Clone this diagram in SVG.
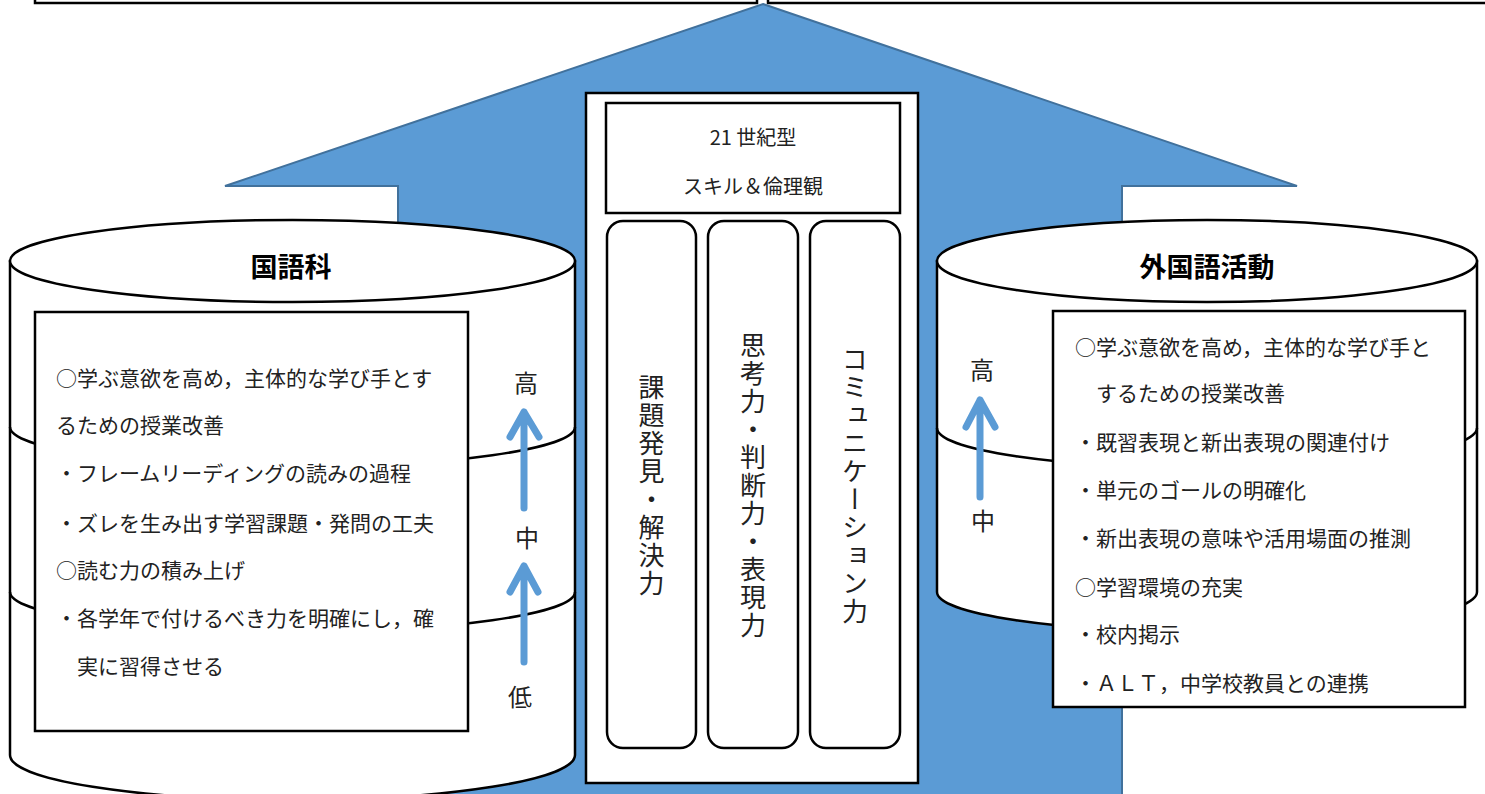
<svg xmlns="http://www.w3.org/2000/svg" width="1485" height="794" viewBox="0 0 1485 794">
<style>
.ln{fill:#fff;stroke:#000;stroke-width:2.5}
.nf{fill:none;stroke:#000;stroke-width:2.5}
.t{font-family:"Noto Sans CJK JP","Noto Sans CJK SC",sans-serif;font-size:21px;fill:#222}
.ttl{font-family:"Noto Sans CJK JP",sans-serif;font-size:27px;font-weight:bold;fill:#000;text-anchor:middle}
.lbl{font-family:"Noto Sans CJK JP",sans-serif;font-size:24px;fill:#222;text-anchor:middle}
.hd{font-family:"Noto Sans CJK JP",sans-serif;font-size:20px;fill:#222;text-anchor:middle}
.vt{font-family:"Noto Sans CJK JP",sans-serif;font-size:26px;letter-spacing:2px;fill:#222;writing-mode:vertical-rl;text-anchor:middle}
.ar{fill:none;stroke:#5B9BD5;stroke-width:7;stroke-linecap:round;stroke-linejoin:round}
</style>
<rect width="1485" height="794" fill="#fff"/>
<g id="top-boxes">
<rect class="ln" x="35" y="-20" width="722" height="23"/>
<rect class="ln" x="768" y="-20" width="730" height="23"/>
</g>
<g id="big-arrow">
<polygon points="763,4 1297,186 1122,186 1122,800 398,800 398,186 225,186" fill="#5B9BD5" stroke="#41719C" stroke-width="2"/>
</g>
<g id="center">
<rect class="ln" x="586" y="93" width="332" height="690"/>
<rect class="ln" x="606" y="103" width="294" height="110"/>
<text class="hd" x="753" y="145">21 世紀型</text>
<text class="hd" x="753" y="194">スキル＆倫理観</text>
<g id="col1"><rect class="ln" x="607" y="221" width="89" height="527" rx="16"/><text class="vt" x="651.5" y="486">課題発見・解決力</text></g>
<g id="col2"><rect class="ln" x="708" y="221" width="90" height="527" rx="16"/><text class="vt" x="753" y="486">思考力・判断力・表現力</text></g>
<g id="col3"><rect class="ln" x="810" y="221" width="90" height="527" rx="16"/><text class="vt" x="855" y="486">コミュニケーション力</text></g>
</g>
<g id="kokugo">
<path class="ln" d="M10,261 L10,755 A282.5,45 0 0 0 575,755 L575,261 Z"/>
<ellipse class="ln" cx="292.5" cy="261" rx="282.5" ry="41"/>
<path class="nf" d="M10,427 A282.5,40 0 0 0 575,427"/>
<path class="nf" d="M10,592 A282.5,40 0 0 0 575,592"/>
<text class="ttl" x="291" y="277">国語科</text>
<rect class="ln" x="35" y="312" width="433" height="419"/>
<text class="t" x="56" y="386">○学ぶ意欲を高め，主体的な学び手とす</text>
<text class="t" x="56" y="433">るための授業改善</text>
<text class="t" x="56" y="481">・フレームリーディングの読みの過程</text>
<text class="t" x="56" y="531">・ズレを生み出す学習課題・発問の工夫</text>
<text class="t" x="56" y="578">○読む力の積み上げ</text>
<text class="t" x="56" y="626">・各学年で付けるべき力を明確にし，確</text>
<text class="t" x="77" y="674">実に習得させる</text>
<text class="lbl" x="526" y="392">高</text>
<text class="lbl" x="527" y="547">中</text>
<text class="lbl" x="520" y="706">低</text>
</g>
<g id="gaikokugo">
<path class="ln" d="M937,261 L937,592 A270,40 0 0 0 1477,592 L1477,261 Z"/>
<ellipse class="ln" cx="1207" cy="261" rx="270" ry="41"/>
<path class="nf" d="M937,428 A270,40 0 0 0 1477,428"/>
<text class="ttl" x="1207" y="277">外国語活動</text>
<rect class="ln" x="1053" y="311" width="412" height="396"/>
<text class="t" x="1075" y="355">○学ぶ意欲を高め，主体的な学び手と</text>
<text class="t" x="1096" y="401">するための授業改善</text>
<text class="t" x="1075" y="450">・既習表現と新出表現の関連付け</text>
<text class="t" x="1075" y="498">・単元のゴールの明確化</text>
<text class="t" x="1075" y="546">・新出表現の意味や活用場面の推測</text>
<text class="t" x="1075" y="595">○学習環境の充実</text>
<text class="t" x="1075" y="642">・校内掲示</text>
<text class="t" x="1075" y="691">・ＡＬＴ，中学校教員との連携</text>
<text class="lbl" x="982" y="379">高</text>
<text class="lbl" x="983" y="530">中</text>
</g>
<g id="connectors">
<path class="ar" d="M524,508 L524,412 M510,437 L524,412 L539,437"/>
<path class="ar" d="M524,662 L524,566 M510,592 L524,566 L538,592"/>
<path class="ar" d="M980,497 L980,400 M966,427 L980,400 L995,427"/>
</g>
</svg>
